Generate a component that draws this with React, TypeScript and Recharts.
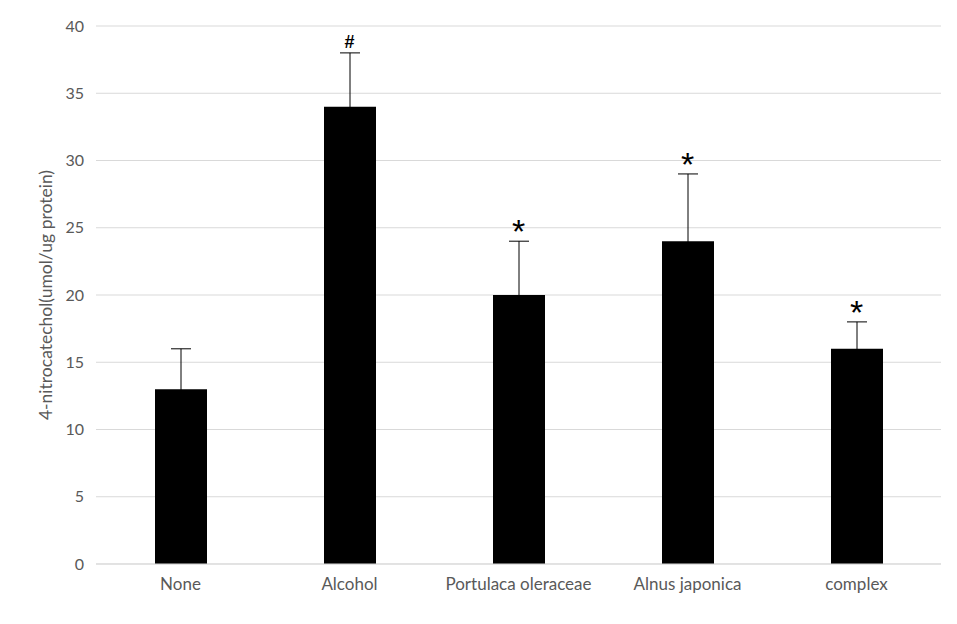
import { Bar, CartesianGrid, ComposedChart, ErrorBar, LabelList, Line, XAxis, YAxis } from "recharts";

const groups = ["None", "Alcohol", "Portulaca oleraceae", "Alnus japonica", "complex"];
const means = [13, 34, 20, 24, 16];
const errors = [3, 4, 4, 5, 2];
const marks = ["", "#", "*", "*", "*"];
const yTicks = [0, 5, 10, 15, 20, 25, 30, 35, 40];

const rows = groups.map((name, i) => ({
  name,
  mean: means[i],
  err: errors[i],
  top: means[i] + errors[i],
  mark: marks[i],
}));

const font = "Lato, 'Open Sans', sans-serif";

function Mark(props: any) {
  const { x, y, value } = props;
  if (!value) return null;
  const hash = value === "#";
  return (
    <text
      x={x}
      y={hash ? y - 5 : y + 2}
      textAnchor="middle"
      fontFamily="'Liberation Sans', sans-serif"
      fontWeight={hash ? 700 : 400}
      fontSize={hash ? 18 : 34}
      fill="#000"
    >
      {value}
    </text>
  );
}

export default function App() {
  return (
    <div style={{ width: 957, height: 624, background: "#fff" }}>
      <style>{`body{margin:0}`}</style>
      <ComposedChart width={957} height={624} data={rows} margin={{ top: 26, right: 16, bottom: 30, left: 0 }}>
        <CartesianGrid stroke="#d9d9d9" vertical={false} />
        <XAxis
          dataKey="name"
          axisLine={{ stroke: "#d9d9d9" }}
          tickLine={false}
          tickMargin={8}
          tick={{ fill: "#595959", fontSize: 17, fontFamily: font }}
        />
        <YAxis
          width={96}
          domain={[0, 40]}
          ticks={yTicks}
          axisLine={false}
          tickLine={false}
          tickMargin={6}
          tick={{ fill: "#595959", fontSize: 16, fontFamily: font }}
          label={{
            value: "4-nitrocatechol(umol/ug protein)",
            angle: -90,
            position: "insideLeft",
            dx: 41,
            style: { textAnchor: "middle", fill: "#595959", fontSize: 17.5, fontFamily: font },
          }}
        />
        <Bar dataKey="mean" fill="#000" barSize={52} isAnimationActive={false}>
          <ErrorBar dataKey="err" direction="y" width={10} stroke="#000" strokeWidth={1} />
        </Bar>
        <Line dataKey="top" stroke="none" dot={false} activeDot={false} isAnimationActive={false}>
          <LabelList dataKey="mark" content={<Mark />} />
        </Line>
      </ComposedChart>
    </div>
  );
}
